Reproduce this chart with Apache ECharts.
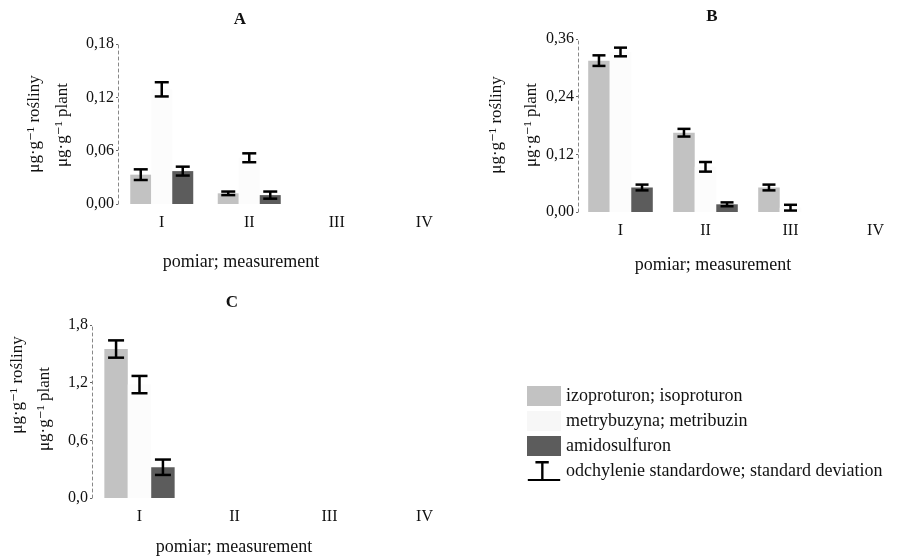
<!DOCTYPE html>
<html><head><meta charset="utf-8">
<script src="https://cdn.jsdelivr.net/npm/echarts@6/dist/echarts.min.js"></script>
<style>html,body{margin:0;padding:0;background:#fff}#c{width:918px;height:560px}</style>
</head><body><div id="c"></div>
<script>
// ---------- data ----------
const categories = ['I', 'II', 'III', 'IV'];
const seriesNames = ['izoproturon; isoproturon', 'metrybuzyna; metribuzin', 'amidosulfuron'];
const sdName = 'odchylenie standardowe; standard deviation';

// Panel A
const A_izo = [0.033, 0.012, null, null];
const A_metri = [0.129, 0.052, null, null];
const A_amido = [0.037, 0.010, null, null];
const A_izo_sd = [0.006, 0.002, null, null];
const A_metri_sd = [0.008, 0.005, null, null];
const A_amido_sd = [0.005, 0.004, null, null];

// Panel B
const B_izo = [0.315, 0.165, 0.051, null];
const B_metri = [0.333, 0.094, 0.009, null];
const B_amido = [0.051, 0.016, null, null];
const B_izo_sd = [0.011, 0.008, 0.006, null];
const B_metri_sd = [0.009, 0.010, 0.006, null];
const B_amido_sd = [0.006, 0.004, null, null];

// Panel C
const C_izo = [1.55, null, null, null];
const C_metri = [1.18, null, null, null];
const C_amido = [0.32, null, null, null];
const C_izo_sd = [0.09, null, null, null];
const C_metri_sd = [0.09, null, null, null];
const C_amido_sd = [0.08, null, null, null];

const panelTitles = ['A', 'B', 'C'];
const yMax = [0.18, 0.36, 1.8];
const yStep = [0.06, 0.12, 0.6];
const yDecimals = [2, 2, 1];
const xName = 'pomiar; measurement';
const yName1 = 'μg·g⁻¹ rośliny';
const yName2 = 'μg·g⁻¹ plant';

// ---------- styling ----------
const FONT = '"Liberation Serif", "DejaVu Serif", serif';
const colors = ['#c2c2c2', '#fcfcfc', '#5c5c5c'];
const gaps = ['28%', '24%', '26%'];
const gapRatio = [0.28, 0.24, 0.26];
const capW = [14, 13, 16];

const grids = [
  {left: 118, top: 44, width: 350, height: 160},
  {left: 578, top: 39, width: 364, height: 173},
  {left: 92, top: 325, width: 380, height: 173}
];

const panels = [
  {vals: [A_izo, A_metri, A_amido], sds: [A_izo_sd, A_metri_sd, A_amido_sd]},
  {vals: [B_izo, B_metri, B_amido], sds: [B_izo_sd, B_metri_sd, B_amido_sd]},
  {vals: [C_izo, C_metri, C_amido], sds: [C_izo_sd, C_metri_sd, C_amido_sd]}
];

const xAxis = [], yAxis = [], series = [];
panels.forEach((p, gi) => {
  xAxis.push({
    type: 'category', gridIndex: gi, data: categories,
    axisLine: {show: false}, axisTick: {show: false},
    axisLabel: {fontFamily: FONT, fontSize: 16, color: '#111', margin: 11}
  });
  yAxis.push({
    type: 'value', gridIndex: gi, min: 0, max: yMax[gi], interval: yStep[gi],
    splitLine: {show: false},
    axisLine: {show: true, lineStyle: {color: '#888', width: 1, type: [3, 3]}},
    axisTick: {show: true, length: 2, inside: false, lineStyle: {color: '#666'}},
    axisLabel: {fontFamily: FONT, fontSize: 16, color: '#111', margin: 4,
      formatter: v => v.toFixed(yDecimals[gi]).replace('.', ',')}
  });
  p.vals.forEach((arr, k) => {
    series.push({
      type: 'bar', name: seriesNames[k], xAxisIndex: gi, yAxisIndex: gi,
      data: arr, barGap: '0%', barCategoryGap: gaps[gi],
      itemStyle: {color: colors[k]}, silent: true
    });
  });
  p.vals.forEach((arr, k) => {
    const d = [];
    arr.forEach((v, i) => { if (v != null && p.sds[k][i] != null) d.push([i, v, p.sds[k][i]]); });
    series.push({
      type: 'custom', name: sdName, xAxisIndex: gi, yAxisIndex: gi, data: d, z: 10, silent: true,
      renderItem: (params, api) => {
        const c = api.value(0), v = api.value(1), s = api.value(2);
        const band = api.size([1, 0])[0];
        const bw = band * (1 - gapRatio[gi]) / 3;
        const x = api.coord([c, v])[0] + (k - 1) * bw;
        const yHi = api.coord([c, v + s])[1];
        const yLo = api.coord([c, v - s])[1];
        const h = capW[gi] / 2;
        const st = {stroke: '#000', lineWidth: 2.5};
        return {type: 'group', children: [
          {type: 'line', shape: {x1: x, y1: yHi, x2: x, y2: yLo}, style: st},
          {type: 'line', shape: {x1: x - h, y1: yHi, x2: x + h, y2: yHi}, style: st},
          {type: 'line', shape: {x1: x - h, y1: yLo, x2: x + h, y2: yLo}, style: st}
        ]};
      }
    });
  });
});

const titlePos = [[240, 20], [712, 17], [232, 303]];
const xNamePos = [[241, 262], [713, 265], [234, 547]];
const yNamePos = [[[35, 124], [63, 125]], [[497, 125], [532, 125]], [[18, 385], [45, 409]]];
const graphic = [];
for (let i = 0; i < 3; i++) {
  graphic.push({type: 'text', x: titlePos[i][0], y: titlePos[i][1],
    style: {text: panelTitles[i], font: 'bold 17px ' + FONT, fill: '#111', align: 'center', verticalAlign: 'middle'}});
  graphic.push({type: 'text', x: xNamePos[i][0], y: xNamePos[i][1],
    style: {text: xName, font: '18px ' + FONT, fill: '#111', align: 'center', verticalAlign: 'middle'}});
  graphic.push({type: 'text', x: yNamePos[i][0][0], y: yNamePos[i][0][1], rotation: Math.PI / 2,
    style: {text: yName1, font: '17px ' + FONT, fill: '#111', align: 'center', verticalAlign: 'middle'}});
  graphic.push({type: 'text', x: yNamePos[i][1][0], y: yNamePos[i][1][1], rotation: Math.PI / 2,
    style: {text: yName2, font: '17px ' + FONT, fill: '#111', align: 'center', verticalAlign: 'middle'}});
}

const chart = echarts.init(document.getElementById('c'), null, {renderer: 'canvas'});
chart.setOption({
  animation: false,
  backgroundColor: '#fff',
  grid: grids,
  xAxis, yAxis, series, graphic,
  legend: {
    orient: 'vertical', left: 522, top: 381, itemWidth: 34, itemHeight: 20, itemGap: 5,
    selectedMode: false,
    textStyle: {fontFamily: FONT, fontSize: 18, color: '#111'},
    data: [
      {name: seriesNames[0], icon: 'rect'},
      {name: seriesNames[1], icon: 'rect', itemStyle: {color: '#f7f7f7'}},
      {name: seriesNames[2], icon: 'rect'},
      {name: sdName, icon: 'path://M8,0h14v2.5h-14z M14,0h2.5v21h-2.5z M0,19h34v2h-34z', itemStyle: {color: '#000'}}
    ]
  }
});
</script></body></html>
